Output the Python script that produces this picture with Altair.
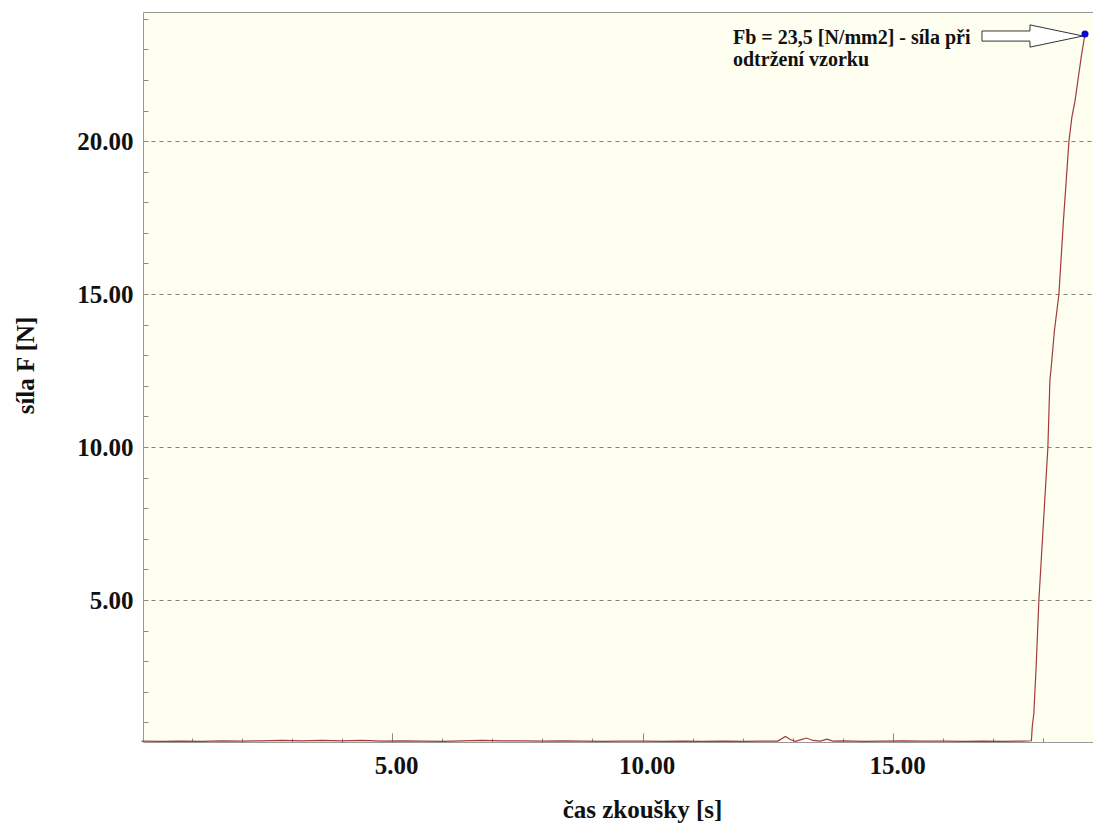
import altair as alt
import pandas as pd

# ---- data ----
time_base = [0.0, 0.4, 0.8, 1.2, 1.6, 2.0, 2.4, 2.8, 3.2, 3.6, 4.0, 4.4, 4.8,
             5.2, 5.6, 6.0, 6.4, 6.8, 7.2, 7.6, 8.0, 8.4, 8.8, 9.2, 9.6, 10.0,
             10.4, 10.8, 11.2, 11.6, 12.0, 12.4, 12.7, 12.85, 12.95, 13.05,
             13.15, 13.27, 13.4, 13.55, 13.68, 13.8, 14.0, 14.4, 14.8, 15.2,
             15.6, 16.0, 16.4, 16.8, 17.2, 17.6, 17.76]
force_base = [0.39, 0.38, 0.39, 0.38, 0.40, 0.39, 0.40, 0.41, 0.40, 0.41, 0.40,
              0.41, 0.39, 0.40, 0.39, 0.38, 0.40, 0.41, 0.40, 0.40, 0.39, 0.40,
              0.39, 0.38, 0.39, 0.39, 0.38, 0.39, 0.38, 0.39, 0.38, 0.39, 0.39,
              0.54, 0.44, 0.38, 0.43, 0.49, 0.41, 0.39, 0.45, 0.39, 0.40, 0.38,
              0.39, 0.40, 0.39, 0.39, 0.38, 0.39, 0.38, 0.39, 0.40]
time_rise = [17.78, 17.81, 17.86, 17.91, 18.00, 18.09, 18.13, 18.15, 18.22,
             18.31, 18.40, 18.51, 18.57, 18.63, 18.69, 18.76, 18.83]
force_rise = [0.9, 1.3, 3.0, 5.0, 7.5, 10.0, 12.2, 12.5, 13.8, 15.0, 17.4,
              20.0, 20.8, 21.3, 22.0, 22.8, 23.5]

peak_time = [18.83]
peak_force = [23.5]
annotation_lines = ["Fb = 23,5 [N/mm2] - síla při", "odtržení vzorku"]

x_major = [5, 10, 15]
x_minor = list(range(1, 19))
y_major = [5, 10, 15, 20]
y_minor = list(range(1, 25))

x_title = "čas zkoušky [s]"
y_title = "síla F [N]"

# ---- styling ----
FONT = "Liberation Serif"
LINE_COLOR = "#a33b3b"
DOT_COLOR = "#0a0acc"
PLOT_BG = "#fefef1"
FRAME = "#999999"
W, H = 950, 730
ARROW_PATH = ("M -1 -0.1 L -0.05 -0.1 L -0.05 -0.22 L 1 0 "
              "L -0.05 0.22 L -0.05 0.1 L -1 0.1 Z")

df = pd.DataFrame({"t": time_base + time_rise, "f": force_base + force_rise})
peak = pd.DataFrame({"t": peak_time, "f": peak_force})

xs = alt.Scale(domain=[0.03, 18.99], nice=False, zero=False)
ys = alt.Scale(domain=[0.36, 24.22], nice=False, zero=False)

major5 = "datum.value % 5 === 0"

line = alt.Chart(df).mark_line(color=LINE_COLOR, strokeWidth=1.2).encode(
    x=alt.X("t:Q", scale=xs, axis=alt.Axis(
        orient="bottom", values=x_major, format=".2f", ticks=False, tickSize=0,
        domain=False, grid=False, labelFont=FONT, labelFontSize=25,
        labelFontWeight="bold", labelColor="#111111", labelPadding=31,
        labelBaseline="alphabetic", labelOffset=4, labelFlush=False,
        labelOverlap=False, title=x_title, titleFont=FONT, titleFontSize=25,
        titleFontWeight="bold", titleColor="#111111", titleX=499, titleY=75,
        titleBaseline="alphabetic", titleAlign="center")),
    y=alt.Y("f:Q", scale=ys, axis=alt.Axis(
        orient="left", values=y_major, format=".2f", ticks=False, tickSize=0,
        domain=False, grid=True, gridDash=[4, 4], gridColor="#808080",
        gridWidth=1, labelFont=FONT, labelFontSize=25, labelFontWeight="bold",
        labelColor="#111111", labelPadding=10, labelOverlap=False,
        labelFlush=False, title=y_title, titleFont=FONT, titleFontSize=25,
        titleFontWeight="bold", titleColor="#111111", titleX=-110, titleY=353,
        titleAngle=270, titleBaseline="alphabetic", titleAlign="center")),
)

dot = alt.Chart(peak).mark_point(filled=True, color=DOT_COLOR, size=50,
                                 opacity=1).encode(
    x=alt.X("t:Q", scale=xs, axis=alt.Axis(
        orient="top", offset=-H, values=x_minor, labels=False, domain=False,
        grid=False, tickColor="#8a8a8a", tickWidth=1,
        tickSize={"condition": {"test": major5, "value": 9}, "value": 4},
        title=None)),
    y=alt.Y("f:Q", scale=ys, axis=alt.Axis(
        orient="right", offset=-W, values=y_minor, labels=False, domain=False,
        grid=False, tickColor="#8a8a8a", tickWidth=1, tickSize=5, title=None)),
)

arrow = alt.Chart(peak).mark_point(
    shape=ARROW_PATH, size=10201, filled=True, fill="white", stroke="#333333",
    strokeWidth=1, opacity=1, xOffset=-52.5, yOffset=2).encode(
    x=alt.X("t:Q", scale=xs, axis=None),
    y=alt.Y("f:Q", scale=ys, axis=None),
)

text = alt.Chart(peak).mark_text(
    text=annotation_lines, align="left", baseline="alphabetic", dx=-352, dy=10,
    lineHeight=22, font=FONT, fontSize=20, fontWeight="bold",
    color="#111111").encode(
    x=alt.X("t:Q", scale=xs, axis=None),
    y=alt.Y("f:Q", scale=ys, axis=None),
)

chart = alt.layer(line, arrow, text, dot).resolve_axis(
    x="independent", y="independent"
).properties(
    width=W, height=H,
    padding={"left": 135, "top": 4, "right": 0, "bottom": 84},
    autosize=alt.AutoSizeParams(type="none"),
).configure(background="white").configure_view(
    fill=PLOT_BG, stroke=FRAME, strokeWidth=1
)

chart.save("out.html", embed_options={"renderer": "svg", "actions": False})
